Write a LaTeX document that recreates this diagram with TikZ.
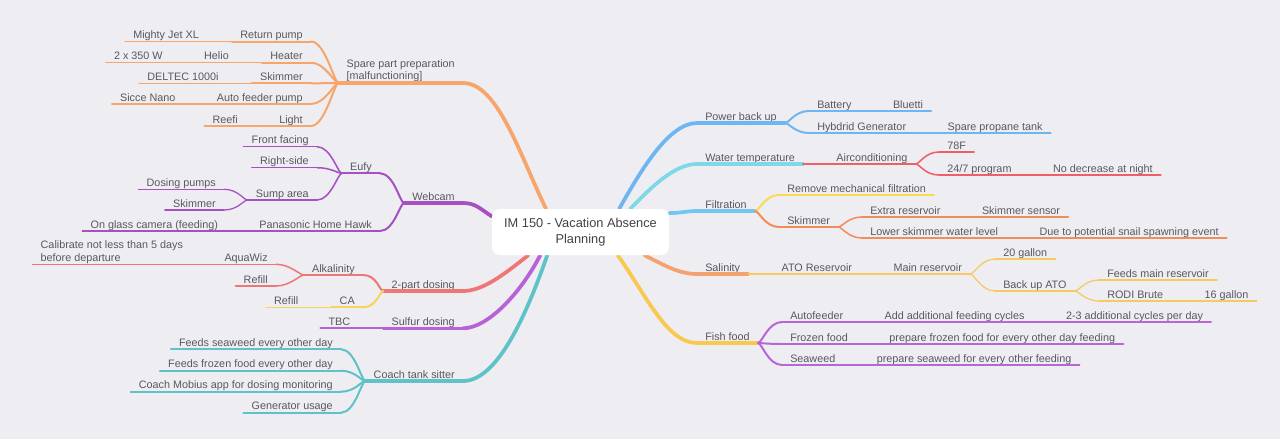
\documentclass[tikz,border=0pt]{standalone}
\usepackage{fontspec}
\setmainfont{Liberation Sans}
\usetikzlibrary{positioning,backgrounds}

\definecolor{paper}{HTML}{EEEDF2}
\definecolor{ink}{HTML}{58585F}
\definecolor{spare}{HTML}{F6A66C}
\definecolor{cam}{HTML}{A650C2}
\definecolor{dose}{HTML}{EE7676}
\definecolor{calc}{HTML}{F7D45A}
\definecolor{sulf}{HTML}{B862D8}
\definecolor{coach}{HTML}{5EC2C9}
\definecolor{power}{HTML}{6DB6F2}
\definecolor{water}{HTML}{80D8E6}
\definecolor{aircon}{HTML}{EE5F67}
\definecolor{filt}{HTML}{72C6EF}
\definecolor{mech}{HTML}{F8DA55}
\definecolor{skim}{HTML}{F08D5C}
\definecolor{salt}{HTML}{F5A36E}
\definecolor{ato}{HTML}{F8C961}
\definecolor{food}{HTML}{F8C84F}
\definecolor{feed}{HTML}{B865D8}

\begin{document}
\begin{tikzpicture}[x=0.75pt, y=-0.75pt, node distance=18.75pt,
  topic/.style={font=\fontsize{8.1}{9.7}\selectfont, text=ink, inner xsep=6pt, inner ysep=0.4pt, text height=6.3pt, text depth=1.6pt},
  twoline/.style={align=left, text height={}, text depth={}},
  trunk/.style={draw=#1, line width=2.8pt, line cap=round},
  lnA/.style={draw=#1, line width=2.3pt, line cap=round},
  lnB/.style={draw=#1, line width=1.5pt, line cap=round},
  lnC/.style={draw=#1, line width=1.15pt, line cap=round},
  lnD/.style={draw=#1, line width=0.95pt, line cap=round},
  under/.style 2 args={append after command={(\tikzlastnode.south west) edge[#2=#1] (\tikzlastnode.south east)}},
  lvA/.style={topic, under={#1}{lnA}},
  lvB/.style={topic, under={#1}{lnB}},
  lvC/.style={topic, under={#1}{lnC}},
  lvD/.style={topic, under={#1}{lnD}},
  lfork/.style={to path={.. controls +(-4,0) and +(14,0) .. (\tikztotarget)}},
  rfork/.style={to path={.. controls +(4,0) and +(-14,0) .. (\tikztotarget)}},
  centre/.style={fill=white, rounded corners=6pt, minimum width=132.75pt, minimum height=34.5pt, inner sep=0pt, align=center, font=\fontsize{9.6}{12}\selectfont, text=ink!75!black}]
  \useasboundingbox (0,0) rectangle (1280,439);

  % Centre
  \node[centre] (root) at (580.5,232) {IM 150 - Vacation Absence\\Planning};

  % Spare parts
  \node[lvA=spare, twoline, anchor=south east] (spare) at (463,83) {Spare part preparation\\{[malfunctioning]}};
  \node[lvB=spare, anchor=south east] (pump) at (311,41.5) {Return pump};
  \node[lvC=spare, left=of pump] (jet) {Mighty Jet XL};
  \node[lvB=spare, anchor=south east] (heater) at (311,62.7) {Heater};
  \node[lvC=spare, left=of heater] (helio) {Helio};
  \node[lvD=spare, left=of helio] (watt) {2 x 350 W};
  \node[lvB=spare, anchor=south east] (spskim) at (311,83.3) {Skimmer};
  \node[lvC=spare, left=of spskim] (deltec) {DELTEC 1000i};
  \node[lvB=spare, anchor=south east] (feedpump) at (311,104) {Auto feeder pump};
  \node[lvC=spare, left=of feedpump] (sicce) {Sicce Nano};
  \node[lvB=spare, anchor=south east] (light) at (311,126) {Light};
  \node[lvC=spare, left=of light] (reefi) {Reefi};

  % Webcam
  \node[lvA=cam, anchor=south east] (webcam) at (463,203) {Webcam};
  \node[lvB=cam, anchor=south east] (eufy) at (380,173.3) {Eufy};
  \node[lvC=cam, anchor=south east] (front) at (317,146.7) {Front facing};
  \node[lvC=cam, anchor=south east] (rside) at (317,167.7) {Right-side};
  \node[lvC=cam, anchor=south east] (sump) at (317,200) {Sump area};
  \node[lvD=cam, anchor=south east] (dosing) at (224,189.3) {Dosing pumps};
  \node[lvD=cam, anchor=south east] (camskim) at (224,210) {Skimmer};
  \node[lvB=cam, anchor=south east] (hawk) at (380,231) {Panasonic Home Hawk};
  \node[lvC=cam, left=of hawk] (glass) {On glass camera (feeding)};

  % Dosing
  \node[lvA=dose, anchor=south east] (twopart) at (463,291) {2-part dosing};
  \node[lvB=dose, anchor=south east] (alk) at (363,275) {Alkalinity};
  \node[lvC=dose, anchor=south east] (aquawiz) at (276,264.3) {AquaWiz};
  \node[lvD=dose, twoline, left=of aquawiz.south west, anchor=south east] (calib) {Calibrate not less than 5 days\\before departure};
  \node[lvC=dose, anchor=south east] (alkref) at (276,286) {Refill};
  \node[lvB=calc, anchor=south east] (ca) at (363,307.3) {CA};
  \node[lvC=calc, left=of ca] (caref) {Refill};
  \node[lvA=sulf, anchor=south east] (sulfur) at (463,328.3) {Sulfur dosing};
  \node[lvB=sulf, left=of sulfur] (tbc) {TBC};

  % Tank sitter
  \node[lvA=coach, anchor=south east] (sitter) at (463,381) {Coach tank sitter};
  \node[lvB=coach, anchor=south east] (seaweed) at (341,349.3) {Feeds seaweed every other day};
  \node[lvB=coach, anchor=south east] (frozen) at (341,370.7) {Feeds frozen food every other day};
  \node[lvB=coach, anchor=south east] (mobius) at (341,391.7) {Coach Mobius app for dosing monitoring};
  \node[lvB=coach, anchor=south east] (genuse) at (341,412.7) {Generator usage};

  % Power
  \node[lvA=power, anchor=south west] (backup) at (697,123) {Power back up};
  \node[lvB=power, anchor=south west] (battery) at (809,111) {Battery};
  \node[lvC=power, right=of battery] (bluetti) {Bluetti};
  \node[lvB=power, anchor=south west] (hybrid) at (809,133) {Hybdrid Generator};
  \node[lvC=power, right=of hybrid] (propane) {Spare propane tank};

  % Water temperature
  \node[lvA=water, anchor=south west] (watertemp) at (697,164) {Water temperature};
  \node[lvB=aircon, right=of watertemp] (aircond) {Airconditioning};
  \node[lvC=aircon, anchor=south west] (f78) at (939,152) {78F};
  \node[lvC=aircon, anchor=south west] (prog) at (939,175) {24/7 program};
  \node[lvD=aircon, right=of prog] (night) {No decrease at night};

  % Filtration
  \node[lvA=filt, anchor=south west] (filtration) at (697,211) {Filtration};
  \node[lvB=mech, anchor=south west] (mechfilt) at (779,195) {Remove mechanical filtration};
  \node[lvB=skim, anchor=south west] (filskim) at (779,227) {Skimmer};
  \node[lvC=skim, anchor=south west] (extra) at (862,217) {Extra reservoir};
  \node[lvD=skim, right=of extra] (sensor) {Skimmer sensor};
  \node[lvC=skim, anchor=south west] (lower) at (862,238) {Lower skimmer water level};
  \node[lvD=skim, right=of lower] (snail) {Due to potential snail spawning event};

  % Salinity
  \node[lvA=salt, anchor=south west] (salinity) at (697,274) {Salinity};
  \node[lvB=ato, right=of salinity] (atores) {ATO Reservoir};
  \node[lvC=ato, right=of atores] (mainres) {Main reservoir};
  \node[lvD=ato, anchor=south west] (g20) at (995,259) {20 gallon};
  \node[lvD=ato, anchor=south west] (backato) at (995,291) {Back up ATO};
  \node[lvD=ato, anchor=south west] (feedsmain) at (1099,280) {Feeds main reservoir};
  \node[lvD=ato, anchor=south west] (rodi) at (1099,301) {RODI Brute};
  \node[lvD=ato, right=of rodi] (g16) {16 gallon};

  % Fish food
  \node[lvA=food, anchor=south west] (fishfood) at (697,343) {Fish food};
  \node[lvB=feed, anchor=south west] (autofeed) at (782,322) {Autofeeder};
  \node[lvC=feed, right=of autofeed] (addcyc) {Add additional feeding cycles};
  \node[lvD=feed, right=of addcyc] (cycles) {2-3 additional cycles per day};
  \node[lvB=feed, anchor=south west] (frozfood) at (782,344) {Frozen food};
  \node[lvC=feed, right=of frozfood] (prepfroz) {prepare frozen food for every other day feeding};
  \node[lvB=feed, anchor=south west] (seaw) at (782,365) {Seaweed};
  \node[lvC=feed, right=of seaw] (prepsea) {prepare seaweed for every other feeding};

  % Left forks
  \draw[lnB=spare] (spare.south west) to[lfork] (pump.south east);
  \draw[lnB=spare] (spare.south west) to[lfork] (heater.south east);
  \draw[lnB=spare] (spare.south west) to[lfork] (spskim.south east);
  \draw[lnB=spare] (spare.south west) to[lfork] (feedpump.south east);
  \draw[lnB=spare] (spare.south west) to[lfork] (light.south east);
  \draw[lnC=spare] (pump.south west) -- (jet.south east);
  \draw[lnC=spare] (heater.south west) -- (helio.south east);
  \draw[lnD=spare] (helio.south west) -- (watt.south east);
  \draw[lnC=spare] (spskim.south west) -- (deltec.south east);
  \draw[lnC=spare] (feedpump.south west) -- (sicce.south east);
  \draw[lnC=spare] (light.south west) -- (reefi.south east);

  \draw[lnB=cam] (webcam.south west) to[lfork] (eufy.south east);
  \draw[lnB=cam] (webcam.south west) to[lfork] (hawk.south east);
  \draw[lnC=cam] (eufy.south west) to[lfork] (front.south east);
  \draw[lnC=cam] (eufy.south west) to[lfork] (rside.south east);
  \draw[lnC=cam] (eufy.south west) to[lfork] (sump.south east);
  \draw[lnD=cam] (sump.south west) to[lfork] (dosing.south east);
  \draw[lnD=cam] (sump.south west) to[lfork] (camskim.south east);
  \draw[lnC=cam] (hawk.south west) -- (glass.south east);

  \draw[lnB=dose] (twopart.south west) to[lfork] (alk.south east);
  \draw[lnB=calc] (twopart.south west) to[lfork] (ca.south east);
  \draw[lnC=dose] (alk.south west) to[lfork] (aquawiz.south east);
  \draw[lnC=dose] (alk.south west) to[lfork] (alkref.south east);
  \draw[lnD=dose] (aquawiz.south west) -- (calib.south east);
  \draw[lnC=calc] (ca.south west) -- (caref.south east);
  \draw[lnB=sulf] (sulfur.south west) -- (tbc.south east);

  \draw[lnB=coach] (sitter.south west) to[lfork] (seaweed.south east);
  \draw[lnB=coach] (sitter.south west) to[lfork] (frozen.south east);
  \draw[lnB=coach] (sitter.south west) to[lfork] (mobius.south east);
  \draw[lnB=coach] (sitter.south west) to[lfork] (genuse.south east);

  % Right forks
  \draw[lnB=power] (backup.south east) to[rfork] (battery.south west);
  \draw[lnB=power] (backup.south east) to[rfork] (hybrid.south west);
  \draw[lnC=power] (battery.south east) -- (bluetti.south west);
  \draw[lnC=power] (hybrid.south east) -- (propane.south west);

  \draw[lnB=aircon] (watertemp.south east) -- (aircond.south west);
  \draw[lnC=aircon] (aircond.south east) to[rfork] (f78.south west);
  \draw[lnC=aircon] (aircond.south east) to[rfork] (prog.south west);
  \draw[lnD=aircon] (prog.south east) -- (night.south west);

  \draw[lnB=mech] (filtration.south east) to[rfork] (mechfilt.south west);
  \draw[lnB=skim] (filtration.south east) to[rfork] (filskim.south west);
  \draw[lnC=skim] (filskim.south east) to[rfork] (extra.south west);
  \draw[lnC=skim] (filskim.south east) to[rfork] (lower.south west);
  \draw[lnD=skim] (extra.south east) -- (sensor.south west);
  \draw[lnD=skim] (lower.south east) -- (snail.south west);

  \draw[lnB=ato] (salinity.south east) -- (atores.south west);
  \draw[lnC=ato] (atores.south east) -- (mainres.south west);
  \draw[lnD=ato] (mainres.south east) to[rfork] (g20.south west);
  \draw[lnD=ato] (mainres.south east) to[rfork] (backato.south west);
  \draw[lnD=ato] (backato.south east) to[rfork] (feedsmain.south west);
  \draw[lnD=ato] (backato.south east) to[rfork] (rodi.south west);
  \draw[lnD=ato] (rodi.south east) -- (g16.south west);

  \draw[lnB=feed] (fishfood.south east) to[rfork] (autofeed.south west);
  \draw[lnB=feed] (fishfood.south east) to[rfork] (frozfood.south west);
  \draw[lnB=feed] (fishfood.south east) to[rfork] (seaw.south west);
  \draw[lnC=feed] (autofeed.south east) -- (addcyc.south west);
  \draw[lnD=feed] (addcyc.south east) -- (cycles.south west);
  \draw[lnC=feed] (frozfood.south east) -- (prepfroz.south west);
  \draw[lnC=feed] (seaw.south east) -- (prepsea.south west);

  % Main branches, under the centre box
  \begin{scope}[on background layer]
    \fill[paper] (0,0) rectangle (1280,439);
    \draw[trunk=spare] (root.146) .. controls +(-26,-53) and +(35,0) .. (spare.south east);
    \draw[trunk=cam] (root.170) .. controls +(-12,-8) and +(12,0) .. (webcam.south east);
    \draw[trunk=dose] (root.204) .. controls +(-24,19) and +(20,0) .. (twopart.south east);
    \draw[trunk=sulf] (root.210) .. controls +(-19,37) and +(25,0) .. (sulfur.south east);
    \draw[trunk=coach] (root.215) .. controls +(-20,57) and +(35,0) .. (sitter.south east);
    \draw[trunk=power] (root.31) .. controls +(22,-39) and +(-28,0) .. (backup.south west);
    \draw[trunk=water] (root.25) .. controls +(21,-22) and +(-22,0) .. (watertemp.south west);
    \draw[trunk=filt] (root.12) .. controls +(10,0) and +(-10,0) .. (filtration.south west);
    \draw[trunk=salt] (root.340) .. controls +(20,10) and +(-18,0) .. (salinity.south west);
    \draw[trunk=food] (root.328) .. controls +(29,41) and +(-30,0) .. (fishfood.south west);
  \end{scope}
\end{tikzpicture}
\end{document}
